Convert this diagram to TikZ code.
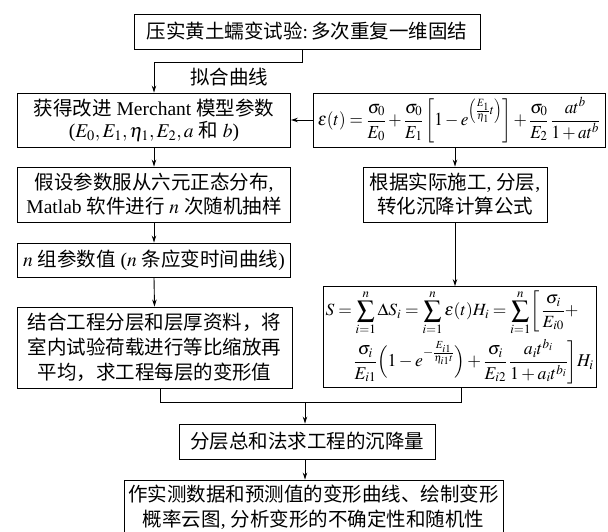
\documentclass[tikz,border=0pt]{standalone}
\usepackage{mathptmx}
\usepackage[no-math]{fontspec}
\usepackage{graphicx}
\setmainfont{Liberation Serif}
\newfontfamily\cjk{Noto Sans CJK SC}
\usetikzlibrary{arrows.meta}
\newcommand{\zh}[1]{{\cjk #1}}
\begin{document}
\begin{tikzpicture}[x=1pt,y=-1pt,
  box/.style={draw,line width=0.9pt,inner sep=0pt,align=center,font=\fontsize{19.5}{24}\selectfont},
  lbl/.style={inner sep=0pt,font=\fontsize{19.5}{24}\selectfont},
  arr/.style={-{Stealth[length=7pt,width=4.5pt]},line width=0.9pt},
  ln/.style={line width=0.9pt}]
\useasboundingbox (0,0) rectangle (608,532);
\node[box,minimum width=346pt,minimum height=35pt] (b1) at (307,31.5)
  {\zh{压实黄土蠕变试验}:\,\zh{多次重复一维固结}};
\node[box,minimum width=273pt,minimum height=54pt] (b2) at (154,120)
  {\zh{获得改进} Merchant \zh{模型参数}\\[-2pt]
   ($E_0, E_1, \eta_1, E_2, a$ \zh{和} $b$)};
\node[box,minimum width=292pt,minimum height=54pt] (b3) at (459,120)
  {\resizebox*{282pt}{46pt}{$\displaystyle \varepsilon(t)=\frac{\sigma_0}{E_0}+\frac{\sigma_0}{E_1}\left[1-e^{\left(\frac{E_1}{\eta_1}t\right)}\right]+\frac{\sigma_0}{E_2}\,\frac{at^b}{1+at^b}$}};
\node[box,minimum width=273pt,minimum height=55pt] (b4) at (154,194.5)
  {\zh{假设参数服从六元正态分布},\\
   Matlab \zh{软件进行} $n$ \zh{次随机抽样}};
\node[box,minimum width=184pt,minimum height=55pt] (b5) at (455,194.5)
  {\zh{根据实际施工}, \zh{分层},\\
   \zh{转化沉降计算公式}};
\node[box,minimum width=273pt,minimum height=34pt] (b6) at (154,260)
  {$n$ \zh{组参数值} ($n$ \zh{条应变时间曲线})};
\node[box,minimum width=275pt,minimum height=81pt,font=\fontsize{19.5}{25}\selectfont] (b7) at (154.5,347.5)
  {\zh{结合工程分层和层厚资料，将}\\
   \zh{室内试验荷载进行等比缩放再}\\
   \zh{平均，求工程每层的变形值}};
\node[box,minimum width=273pt,minimum height=101pt] (b8) at (459.5,337)
  {\makebox[268pt][l]{\resizebox*{253pt}{45pt}{$\displaystyle S=\sum_{i=1}^{n}\Delta S_i=\sum_{i=1}^{n}\varepsilon(t)H_i=\sum_{i=1}^{n}\biggl[\,\frac{\sigma_i}{E_{i0}}+$}}\\[3pt]
   \makebox[268pt][r]{\resizebox*{240pt}{45pt}{$\displaystyle\frac{\sigma_i}{E_{i1}}\Bigl(1-e^{-\frac{E_{i1}}{\eta_{i1}t}}\Bigr)+\frac{\sigma_i}{E_{i2}}\,\frac{a_it^{b_i}}{1+a_it^{b_i}}\biggr]H_i$}}};
\node[box,minimum width=256pt,minimum height=35pt] (b9) at (307,441.5)
  {\zh{分层总和法求工程的沉降量}};
\node[box,minimum width=379pt,minimum height=55pt,font=\fontsize{19.5}{25}\selectfont] (b10) at (313.5,507.5)
  {\zh{作实测数据和预测值的变形曲线、绘制变形}\\
   \zh{概率云图}, \zh{分析变形的不确定性和随机性}};
\node[lbl] (fit) at (229,77) {\zh{拟合曲线}};
% connectors
\draw[arr] ([xshift=-5pt]b1.south) -- ++(0,13) -| (b2.north);
\draw[arr] (b3.west) -- (b2.east);
\draw[arr] (b5.north |- b3.south) -- (b5.north);
\draw[arr] (b2.south) -- (b4.north);
\draw[arr] (b4.south) -- (b6.north);
\draw[arr] (b6.south) -- (b7.north);
\draw[arr] (b5.south) -- (b5.south |- b8.north);
\draw[ln] ([xshift=5.5pt]b7.south) -- ++(0,14) coordinate (j) -| ([xshift=2pt]b8.south);
\coordinate (jm) at ([xshift=-2pt]b9.north |- j);
\draw[arr] (jm) -- (jm |- b9.north);
\draw[arr] ([xshift=-2pt]b9.south) -- ([xshift=-2pt]b9.south |- b10.north);
\end{tikzpicture}
\end{document}
